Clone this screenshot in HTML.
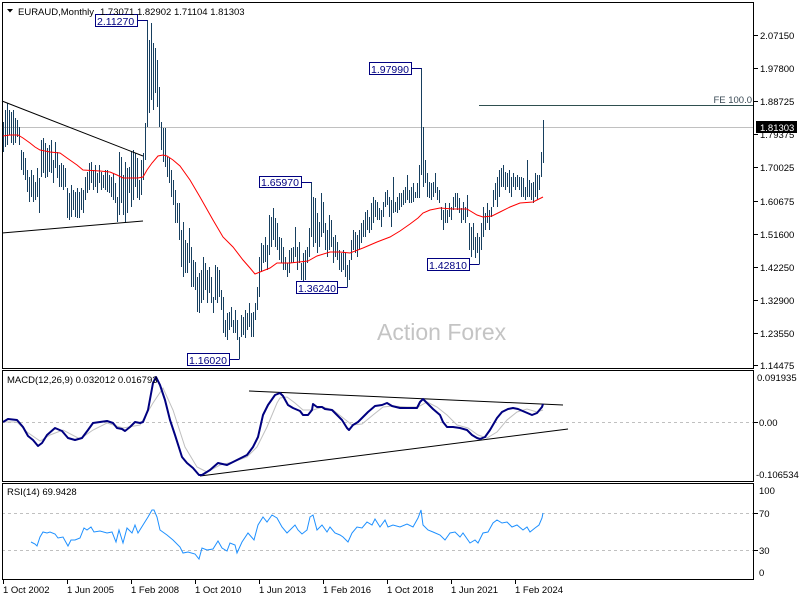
<!DOCTYPE html>
<html><head><meta charset="utf-8"><style>
html,body{margin:0;padding:0;background:#fff;}
svg{display:block;}
text{font-family:"Liberation Sans",sans-serif;}
</style></head><body>
<svg width="800" height="600" viewBox="0 0 800 600" xmlns="http://www.w3.org/2000/svg">
<rect x="0" y="0" width="800" height="600" fill="#fff"/>

<!-- Main panel -->
<line x1="2" y1="127.5" x2="754" y2="127.5" stroke="#c0c0c0" stroke-width="1"/>
<line x1="479" y1="105.5" x2="753" y2="105.5" stroke="#2f4f4f" stroke-width="1"/>
<text x="752" y="103" font-size="9.5" fill="#3a4a55" text-anchor="end">FE 100.0</text>

<text x="377" y="340" font-size="23" fill="#c4c4c4">Action Forex</text>

<path fill="none" stroke="#173f5f" stroke-width="1" shape-rendering="crispEdges" d="M3.5 122V152M5.5 110V147M7.5 103V145M9.5 110V135M11.5 112V143M13.5 110V145M15.5 118V143M17.5 120V137M19.5 127V145M21.5 150V170M23.5 152V175M25.5 158V180M27.5 170V192M29.5 177V202M31.5 170V197M33.5 175V202M35.5 182V200M37.5 168V197M39.5 178V213M41.5 140V177M43.5 138V173M45.5 143V178M47.5 148V177M49.5 145V172M51.5 140V173M53.5 160V183M55.5 142V168M57.5 152V178M59.5 165V187M61.5 163V187M63.5 165V190M65.5 168V187M67.5 188V218M69.5 193V220M71.5 185V217M73.5 190V210M75.5 192V217M77.5 188V218M79.5 192V218M81.5 188V210M83.5 190V213M85.5 177V200M87.5 172V193M89.5 163V190M91.5 162V183M93.5 170V190M95.5 165V187M97.5 173V193M99.5 165V183M101.5 172V190M103.5 175V188M105.5 170V190M107.5 170V192M109.5 175V193M111.5 177V197M113.5 173V200M115.5 183V203M117.5 197V222M119.5 152V215M121.5 157V203M123.5 175V215M125.5 162V222M127.5 168V213M129.5 167V193M131.5 152V207M133.5 150V200M135.5 153V187M137.5 158V198M139.5 180V200M141.5 160V195M143.5 153V180M145.5 123V160M147.5 20V127M149.5 40V113M151.5 23V100M153.5 43V110M155.5 48V93M157.5 60V107M159.5 87V127M161.5 122V150M163.5 128V162M165.5 128V167M167.5 157V177M169.5 158V183M171.5 170V197M173.5 180V205M175.5 190V223M177.5 203V223M179.5 203V240M181.5 230V267M183.5 222V277M185.5 240V273M187.5 243V273M189.5 228V263M191.5 247V287M193.5 260V287M195.5 262V290M197.5 277V312M199.5 273V313M201.5 270V303M203.5 257V300M205.5 263V290M207.5 270V303M209.5 267V293M211.5 277V303M213.5 297V313M215.5 265V300M217.5 267V303M219.5 270V297M221.5 290V310M223.5 297V333M225.5 320V337M227.5 313V340M229.5 312V330M231.5 307V327M233.5 320V333M235.5 310V333M237.5 320V340M239.5 337V359M241.5 315V337M243.5 317V335M245.5 310V338M247.5 313V330M249.5 303V327M251.5 313V337M253.5 312V337M255.5 303V320M257.5 287V310M259.5 257V297M261.5 243V272M263.5 245V263M265.5 237V262M267.5 245V270M269.5 215V255M271.5 217V247M273.5 208V240M275.5 218V247M277.5 223V250M279.5 237V260M281.5 238V263M283.5 247V270M285.5 257V270M287.5 263V277M289.5 250V273M291.5 248V263M293.5 247V263M295.5 227V257M297.5 247V270M299.5 242V263M301.5 263V280M303.5 253V283M305.5 250V280M307.5 247V263M309.5 228V257M311.5 182V237M313.5 197V247M315.5 198V243M317.5 213V253M319.5 222V247M321.5 193V237M323.5 202V233M325.5 223V250M327.5 230V257M329.5 215V250M331.5 220V247M333.5 237V263M335.5 235V257M337.5 242V260M339.5 250V270M341.5 253V272M343.5 250V270M345.5 253V277M347.5 265V287M349.5 260V280M351.5 240V260M353.5 230V250M355.5 232V253M357.5 235V257M359.5 230V250M361.5 223V243M363.5 220V237M365.5 212V237M367.5 210V230M369.5 217V233M371.5 203V230M373.5 197V223M375.5 200V217M377.5 202V220M379.5 208V220M381.5 210V227M383.5 202V217M385.5 192V207M387.5 190V205M389.5 197V217M391.5 200V227M393.5 177V213M395.5 202V212M397.5 197V213M399.5 193V210M401.5 193V207M403.5 190V205M405.5 187V203M407.5 175V200M409.5 190V203M411.5 187V203M413.5 183V202M415.5 192V198M417.5 183V198M419.5 165V198M421.5 68V175M423.5 127V187M425.5 160V183M427.5 173V197M429.5 182V198M431.5 183V200M433.5 182V197M435.5 173V193M437.5 187V200M439.5 190V203M441.5 207V220M443.5 210V230M445.5 203V223M447.5 210V223M449.5 203V217M451.5 207V220M453.5 197V210M455.5 193V207M457.5 193V210M459.5 198V213M461.5 208V223M463.5 202V220M465.5 207V223M467.5 195V217M469.5 223V250M471.5 227V257M473.5 223V250M475.5 237V258M477.5 233V253M479.5 237V264M481.5 223V250M483.5 207V237M485.5 213V230M487.5 203V223M489.5 210V230M491.5 207V217M493.5 190V207M495.5 183V200M497.5 177V207M499.5 170V197M501.5 168V187M503.5 165V187M505.5 172V190M507.5 173V187M509.5 170V193M511.5 177V197M513.5 173V187M515.5 177V190M517.5 175V187M519.5 177V190M521.5 177V197M523.5 178V197M525.5 187V200M527.5 160V197M529.5 180V197M531.5 183V200M533.5 182V203M535.5 173V197M537.5 175V200M539.5 175V190M541.5 152V177M543.5 120V163"/>

<polyline fill="none" stroke="#ff0000" stroke-width="1" points="3,136 10,135 18,135 23,138 30,143 35,147 40,150 50,152 60,153 67,158 77,165 83,170 100,171 110,172 117,175 123,178 138,178 143,177 147,170 152,163 158,156 163,155 167,156 173,160 180,166 190,180 200,197 213,220 223,237 233,247 243,260 250,268 255,274 260,272 270,268 277,263 290,263 308,261 317,256 330,252 340,252 350,253 363,248 377,242 390,237 400,231 410,224 418,218 423,213 430,210 440,208 453,209 467,209 477,215 483,217 492,216 500,212 510,207 520,203 533,202 543,197"/>

<line x1="2" y1="101" x2="143" y2="156" stroke="#000" stroke-width="1"/>
<line x1="2" y1="233" x2="143" y2="221" stroke="#000" stroke-width="1"/>

<!-- labels -->
<g stroke="#000080" stroke-width="1" shape-rendering="crispEdges">
<line x1="137.5" y1="20.5" x2="147.5" y2="20.5"/>
<line x1="411.5" y1="68.5" x2="421.5" y2="68.5"/>
<line x1="301.5" y1="182.5" x2="311.5" y2="182.5"/>
<line x1="337.5" y1="287.5" x2="347.5" y2="287.5"/>
<line x1="469.5" y1="264.5" x2="479.5" y2="264.5"/>
<line x1="229.5" y1="359.5" x2="239.5" y2="359.5"/>
<rect x="95.5" y="14.5" width="42" height="12" fill="#fff"/>
<rect x="369.5" y="62.5" width="42" height="12" fill="#fff"/>
<rect x="259.5" y="176.5" width="42" height="11" fill="#fff"/>
<rect x="296.5" y="281.5" width="41" height="12" fill="#fff"/>
<rect x="427.5" y="258.5" width="42" height="12" fill="#fff"/>
<rect x="187.5" y="353.5" width="42" height="12" fill="#fff"/>
</g>
<g font-size="10.5" fill="#000080">
<text x="97" y="25">2.11270</text>
<text x="371" y="73">1.97990</text>
<text x="261" y="186">1.65970</text>
<text x="298" y="292">1.36240</text>
<text x="429" y="269">1.42810</text>
<text x="189" y="364">1.16020</text>
</g>

<!-- title -->
<polygon points="7,9 13,9 10,12.5" fill="#000"/>
<text x="18" y="15" font-size="9.5" fill="#000">EURAUD,Monthly</text>
<text x="100" y="15" font-size="9.5" fill="#000">1.73071 1.82902 1.71104 1.81303</text>

<!-- MACD panel -->
<line x1="2" y1="422.5" x2="754" y2="422.5" stroke="#c0c0c0" stroke-dasharray="3,3"/>
<line x1="249" y1="391" x2="563" y2="405" stroke="#000" stroke-width="1"/>
<line x1="200" y1="476" x2="568" y2="429" stroke="#000" stroke-width="1"/>
<polyline fill="none" stroke="#c0c0c0" stroke-width="1" points="3,422 17,422 27,432 40,441 50,435 63,430 80,439 93,430 107,423 123,428 140,425 153,403 163,388 173,410 185,447 197,467 207,472 220,465 233,462 247,457 257,447 267,427 277,403 280,398 287,397 295,403 303,410 313,410 323,407 333,410 342,417 352,425 362,424 373,415 383,407 393,406 407,407 418,407 427,402 437,407 447,415 457,425 468,428 478,435 487,438 497,432 507,420 517,412 527,409 537,412 543,410"/>
<polyline fill="none" stroke="#000080" stroke-width="2" stroke-linejoin="round" points="3,422 8,419 17,420 23,427 28,436 33,440 38,446 42,443 47,435 55,428 62,431 68,438 75,440 82,438 88,430 93,423 100,422 107,421 113,423 117,428 122,429 125,431 130,427 135,422 140,423 143,422 148,410 153,383 156,377 160,385 165,400 170,420 175,435 182,457 187,463 193,468 199,475 202,475 210,470 218,463 227,465 237,460 247,455 253,447 258,437 263,415 268,405 275,395 280,393 283,396 288,405 293,408 300,411 303,415 308,415 312,410 313,404 317,407 322,407 325,409 332,410 337,415 342,420 347,428 349,430 353,425 358,422 363,417 368,412 375,406 382,405 387,403 392,406 400,408 412,408 417,408 420,402 423,399 427,403 433,409 440,415 443,422 447,427 453,427 460,428 467,430 472,435 477,438 480,439 485,437 490,430 497,418 502,412 508,409 513,408 518,409 525,412 532,415 537,413 542,407 543,404"/>
<text x="7" y="383" font-size="9.5" fill="#000">MACD(12,26,9) 0.032012 0.016793</text>

<!-- RSI panel -->
<line x1="2" y1="513.5" x2="754" y2="513.5" stroke="#c0c0c0" stroke-dasharray="3,3"/>
<line x1="2" y1="550.5" x2="754" y2="550.5" stroke="#c0c0c0" stroke-dasharray="3,3"/>
<polyline fill="none" stroke="#1e90ff" stroke-width="1" points="31,542 35,544 37,546 40,537 43,532 47,533 50,532 55,534 58,538 63,537 68,546 71,540 75,540 80,538 84,528 87,530 91,527 94,532 100,531 107,533 112,532 116,542 119,530 123,543 127,528 132,533 135,525 138,533 143,525 148,517 152,510 154,510 157,517 160,530 167,535 173,540 180,547 183,553 188,552 195,554 199,559 202,548 207,550 213,549 218,541 222,548 227,551 230,543 235,545 237,553 242,542 248,533 254,540 258,525 263,517 267,522 272,515 277,518 282,527 287,533 290,530 295,525 298,530 302,534 307,530 310,517 313,515 317,530 322,525 327,532 330,527 335,533 340,535 343,537 348,542 352,533 357,527 362,528 367,522 372,525 375,519 380,527 385,520 388,527 393,525 400,527 407,524 413,527 418,518 421,510 423,525 428,530 433,532 440,535 445,540 450,533 455,532 460,537 463,533 470,543 475,540 478,543 483,533 488,532 493,523 497,520 502,523 507,522 512,527 517,525 523,530 527,527 530,532 535,528 539,525 542,518 543,513"/>
<text x="7" y="495" font-size="9.5" fill="#000">RSI(14) 69.9428</text>

<!-- frames -->
<g fill="none" stroke="#000" stroke-width="1" shape-rendering="crispEdges">
<rect x="2.5" y="2.5" width="751" height="366"/>
<rect x="2.5" y="370.5" width="751" height="111"/>
<rect x="2.5" y="483.5" width="751" height="96"/>
<path d="M754 35.5h4M754 68.5h4M754 101.5h4M754 134.5h4M754 167.5h4M754 201.5h4M754 234.5h4M754 267.5h4M754 300.5h4M754 333.5h4M754 365.5h4M754 422.5h4M754 513.5h4M754 550.5h4"/>
<path d="M3.5 580v4M67.5 580v4M131.5 580v4M195.5 580v4M259.5 580v4M323.5 580v4M387.5 580v4M451.5 580v4M515.5 580v4"/>
</g>

<!-- right axis labels -->
<g font-size="9.5" fill="#000">
<text x="760" y="39">2.07150</text>
<text x="760" y="72">1.97800</text>
<text x="760" y="105">1.88725</text>
<text x="760" y="138">1.79375</text>
<text x="760" y="171">1.70025</text>
<text x="760" y="205">1.60675</text>
<text x="760" y="238">1.51600</text>
<text x="760" y="271">1.42250</text>
<text x="760" y="304">1.32900</text>
<text x="760" y="337">1.23550</text>
<text x="760" y="369">1.14475</text>
<text x="757" y="381">0.091935</text>
<text x="759" y="426">0.00</text>
<text x="756" y="478">-0.106534</text>
<text x="759" y="494">100</text>
<text x="759" y="517">70</text>
<text x="759" y="554">30</text>
<text x="759" y="576">0</text>
</g>
<rect x="756" y="121" width="41" height="12" fill="#000"/>
<text x="760" y="131" font-size="9.5" fill="#fff">1.81303</text>

<!-- bottom axis labels -->
<g font-size="9.5" fill="#000">
<text x="3" y="593">1 Oct 2002</text>
<text x="67" y="593">1 Jun 2005</text>
<text x="131" y="593">1 Feb 2008</text>
<text x="195" y="593">1 Oct 2010</text>
<text x="259" y="593">1 Jun 2013</text>
<text x="323" y="593">1 Feb 2016</text>
<text x="387" y="593">1 Oct 2018</text>
<text x="451" y="593">1 Jun 2021</text>
<text x="515" y="593">1 Feb 2024</text>
</g>
</svg>
</body></html>
